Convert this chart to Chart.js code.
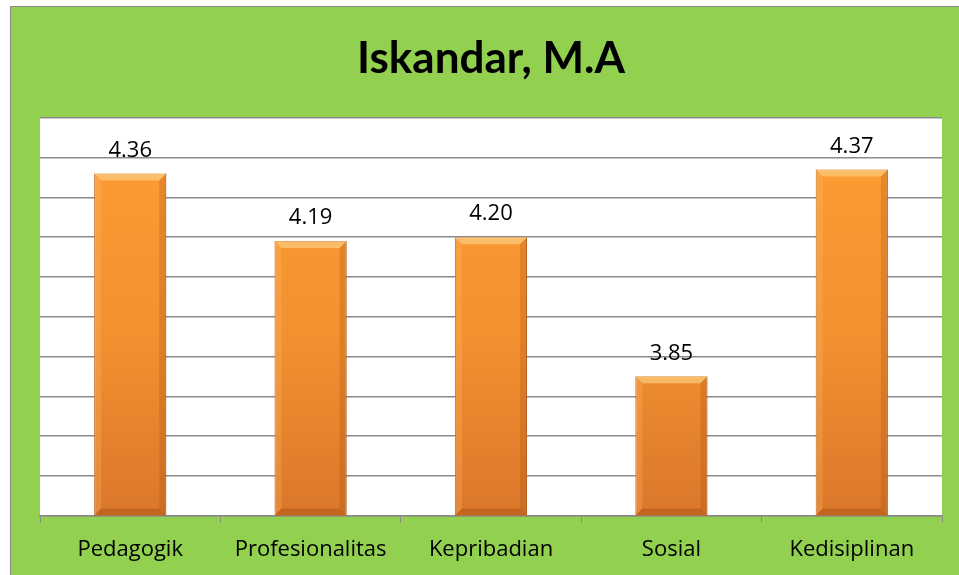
<!DOCTYPE html>
<html>
<head>
    <title>Iskandar, M.A</title>
    <script src="https://cdn.jsdelivr.net/npm/chart.js@4.4.0/dist/chart.umd.min.js"></script>
    <style>
        body { margin: 0; background: #ffffff; overflow: hidden; }
        .bingkai {
            position: absolute; left: 10px; top: 6px;
            width: 949px; height: 569px; overflow: hidden;
            border-left: 1px solid #8a8a8a; border-top: 1px solid #8a8a8a;
        }
    </style>
</head>
<body>
    <div class="bingkai">
        <canvas id="grafik" width="948" height="568"></canvas>
    </div>

    <script>
        var kategori = ['Pedagogik', 'Profesionalitas', 'Kepribadian', 'Sosial', 'Kedisiplinan'];
        var nilai = [4.36, 4.19, 4.20, 3.85, 4.37];
        var judul = 'Iskandar, M.A';
        var skalaMin = 3.5;
        var skalaMax = 4.5;
        var langkah = 0.1;

        // latar hijau di seluruh kanvas
        var latarHijau = {
            id: 'latarHijau',
            beforeDraw: function (chart) {
                var c = chart.ctx;
                c.save();
                c.fillStyle = '#92D050';
                c.fillRect(0, 0, chart.width, chart.height);
                var a = chart.chartArea;
                c.fillStyle = '#ffffff';
                c.fillRect(a.left, a.top, a.right - a.left, a.bottom - a.top);
                c.restore();
            }
        };

        // efek bevel di atas batang + label nilai
        var labelNilai = {
            id: 'labelNilai',
            afterDatasetsDraw: function (chart) {
                var c = chart.ctx;
                var meta = chart.getDatasetMeta(0);
                c.save();
                meta.data.forEach(function (bar, i) {
                    var l = bar.x - bar.width / 2, r = bar.x + bar.width / 2;
                    var t = bar.y, b = Math.min(bar.base, chart.chartArea.bottom), s = 7;
                    c.fillStyle = 'rgba(255,215,140,0.6)';
                    c.beginPath();
                    c.moveTo(l, t); c.lineTo(r, t); c.lineTo(r - s, t + s); c.lineTo(l + s, t + s);
                    c.closePath(); c.fill();
                    c.fillStyle = 'rgba(255,190,110,0.25)';
                    c.beginPath();
                    c.moveTo(l, t); c.lineTo(l + s, t + s); c.lineTo(l + s, b - s); c.lineTo(l, b);
                    c.closePath(); c.fill();
                    c.fillStyle = 'rgba(150,70,10,0.22)';
                    c.beginPath();
                    c.moveTo(r, t); c.lineTo(r - s, t + s); c.lineTo(r - s, b - s); c.lineTo(r, b);
                    c.closePath(); c.fill();
                    c.fillStyle = 'rgba(140,60,10,0.3)';
                    c.beginPath();
                    c.moveTo(l, b); c.lineTo(l + s, b - s); c.lineTo(r - s, b - s); c.lineTo(r, b);
                    c.closePath(); c.fill();

                    c.fillStyle = '#000000';
                    c.font = '22px "Open Sans", Lato, sans-serif';
                    c.textAlign = 'center';
                    c.textBaseline = 'bottom';
                    c.fillText(nilai[i].toFixed(2), bar.x, t - 12);
                });
                c.restore();
            }
        };

        function warnaBatang(context) {
            var chart = context.chart;
            var a = chart.chartArea;
            if (!a) return '#F7922E';
            var g = chart.ctx.createLinearGradient(0, a.top, 0, a.bottom);
            g.addColorStop(0, '#FF9D35');
            g.addColorStop(0.55, '#F39030');
            g.addColorStop(1, '#DB772A');
            return g;
        }

        var ctx = document.getElementById('grafik').getContext('2d');
        var grafik = new Chart(ctx, {
            type: 'bar',
            data: {
                labels: kategori,
                datasets: [{
                    data: nilai,
                    backgroundColor: warnaBatang,
                    borderColor: '#B8621E',
                    borderWidth: 1,
                    categoryPercentage: 1,
                    barPercentage: 0.4
                }]
            },
            options: {
                responsive: false,
                animation: false,
                devicePixelRatio: 1,
                layout: {
                    padding: { left: 29, right: 17, top: 25, bottom: -2 }
                },
                plugins: {
                    legend: { display: false },
                    tooltip: { enabled: false },
                    title: {
                        display: true,
                        text: judul,
                        color: '#000000',
                        font: { family: 'Lato, "Open Sans", sans-serif', size: 44, weight: 'bold' },
                        padding: { top: 0, bottom: 33 }
                    }
                },
                scales: {
                    x: {
                        grid: {
                            drawOnChartArea: false,
                            drawTicks: true,
                            tickLength: 7,
                            color: '#8a8a8a',
                            offset: true
                        },
                        border: { display: true, color: '#8a8a8a', width: 1.5 },
                        ticks: {
                            color: '#000000',
                            padding: 14,
                            font: { family: '"Open Sans", Lato, sans-serif', size: 22 }
                        }
                    },
                    y: {
                        min: skalaMin,
                        max: skalaMax,
                        ticks: { display: false, stepSize: langkah },
                        grid: { color: '#8a8a8a', lineWidth: 1.5, drawTicks: false },
                        border: { display: false }
                    }
                }
            },
            plugins: [latarHijau, labelNilai]
        });
    </script>
</body>
</html>
